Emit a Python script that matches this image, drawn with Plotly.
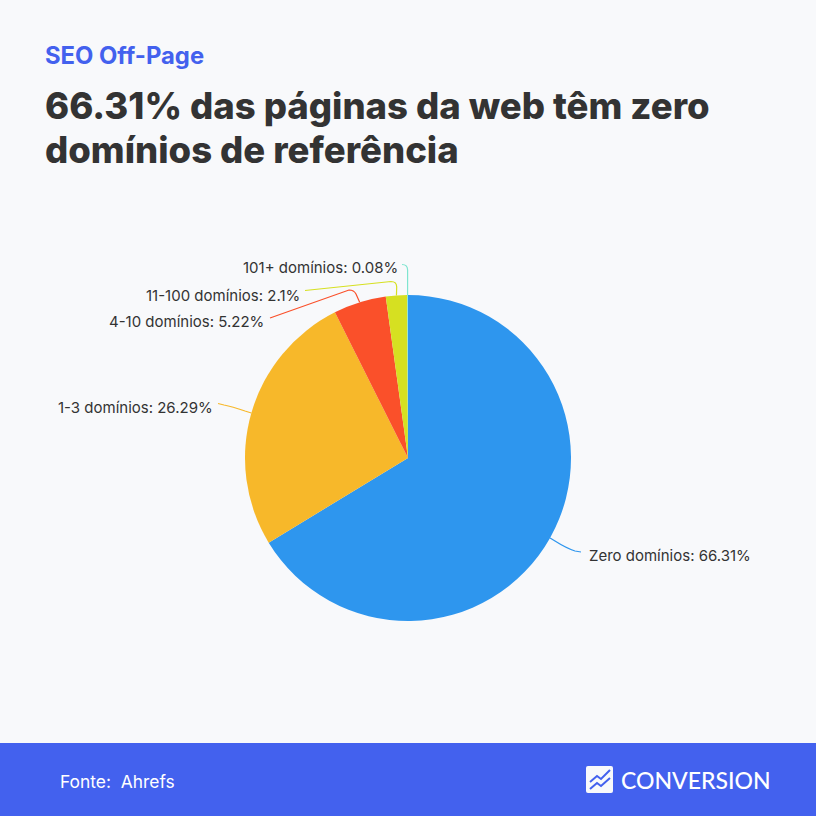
import math
import plotly.graph_objects as go

kicker = "SEO Off-Page"
title_lines = ["66.31% das páginas da web têm zero", "domínios de referência"]
source = "Fonte:  Ahrefs"
brand = "CONVERSION"

categories = ["Zero domínios", "1-3 domínios", "4-10 domínios", "11-100 domínios", "101+ domínios"]
values = [66.31, 26.29, 5.22, 2.1, 0.08]
value_labels = ["66.31%", "26.29%", "5.22%", "2.1%", "0.08%"]
colors = ["#2e96ee", "#f7b82a", "#fa502a", "#d6e021", "#7fe5d0"]

W = 816
BG = "#f8f9fb"
BLUE = "#4361ee"
TEXT = "#333333"
cx, cy, radius = 408, 458, 163

# label end of each text, and the leader line after the slice edge (pixels):
# start of the bend, its corner, end of the bend, end of the line
label_pos = [(587, 555), (215, 407), (266, 322), (302, 295), (400, 268)]
bend_start = [(555, 541), (245, 411), (356, 294), (396.7, 287), (407.6, 270)]
bend = [(566, 548), (232, 406.5), (354, 290), (396.7, 281.5), (407.6, 264.5)]
bend_end = [(575, 551), (224, 405), (349, 290), (391, 281.5), (402, 264.5)]
line_end = [(581, 552), (218, 403.5), (270, 318), (305, 290.5), (402, 264.5)]


def px(x):
    return x / W


def py(y):
    return 1 - y / W


def path(*cmds):
    # cmds are (letter, x, y, ...) in pixels, converted to paper fractions
    out = []
    for c in cmds:
        if len(c) == 1:
            out.append(c[0])
            continue
        pts = c[1:]
        coords = []
        for n in range(0, len(pts), 2):
            coords.append(f"{px(pts[n]):.5f} {py(pts[n + 1]):.5f}")
        out.append(c[0] + " " + " ".join(coords))
    return " ".join(out)


def text(x, y, s, size, color, family="Inter", anchor="left", weight="normal"):
    return dict(x=px(x), y=py(y), xref="paper", yref="paper", text=s, showarrow=False,
                xanchor=anchor, yanchor="middle",
                font=dict(family=family, size=size, color=color, weight=weight))


fig = go.Figure()
fig.add_trace(go.Pie(
    labels=categories,
    values=values,
    sort=False,
    direction="clockwise",
    rotation=0,
    marker=dict(colors=colors, line=dict(width=0)),
    textinfo="none",
    hoverinfo="label+percent",
    showlegend=False,
    domain=dict(x=[px(cx - radius), px(cx + radius)],
                y=[py(cy + radius), py(cy - radius)]),
))

shapes = [dict(type="rect", xref="paper", yref="paper", x0=0, x1=1, y0=0, y1=py(743),
               fillcolor=BLUE, line_width=0, layer="below")]
annotations = []

# leader lines start on the slice edge at its middle angle
total = sum(values)
cum = 0
for i, v in enumerate(values):
    ang = 2 * math.pi * (cum + v / 2) / total
    cum += v
    ax = cx + radius * math.sin(ang)
    ay = cy - radius * math.cos(ang)
    shapes.append(dict(type="path", xref="paper", yref="paper",
                       path=path(("M", ax, ay), ("L", *bend_start[i]), ("Q", *bend[i], *bend_end[i]),
                                 ("L", *line_end[i])),
                       line=dict(color=colors[i], width=1.2)))
    annotations.append(text(*label_pos[i], f"{categories[i]}: {value_labels[i]}", 15, TEXT,
                            anchor="left" if i == 0 else "right"))

annotations += [
    text(43, 56, kicker, 23.8, BLUE, weight=700),
    text(43, 106, title_lines[0], 36.5, TEXT, weight=800),
    text(43, 150, title_lines[1], 36.5, TEXT, weight=800),
    text(58, 781, source, 17.4, "#ffffff"),
    text(619, 780, brand, 23, "#ffffff", family="Lato", weight=500),
]

# logo: white rounded square with two zigzag lines
shapes.append(dict(type="path", xref="paper", yref="paper", fillcolor=BG, line_width=0,
                   path=path(("M", 588, 766), ("L", 611, 766), ("Q", 613, 766, 613, 768), ("L", 613, 791),
                             ("Q", 613, 793, 611, 793), ("L", 588, 793), ("Q", 586, 793, 586, 791),
                             ("L", 586, 768), ("Q", 586, 766, 588, 766), ("Z",))))
for zig in ([(590, 782), (597, 776), (601, 779), (610, 770)], [(590, 789), (597, 783), (601, 786), (610, 778)]):
    cmds = [("M", *zig[0])] + [("L", *p) for p in zig[1:]]
    shapes.append(dict(type="path", xref="paper", yref="paper", path=path(*cmds),
                       line=dict(color=BLUE, width=2)))

fig.update_layout(
    width=W, height=W,
    margin=dict(l=0, r=0, t=0, b=0),
    paper_bgcolor=BG,
    shapes=shapes,
    annotations=annotations,
)

fig.write_html("out.html", config=dict(displayModeBar=False),
               post_script="document.body.style.margin='0';document.body.style.background='#f8f9fb';")
